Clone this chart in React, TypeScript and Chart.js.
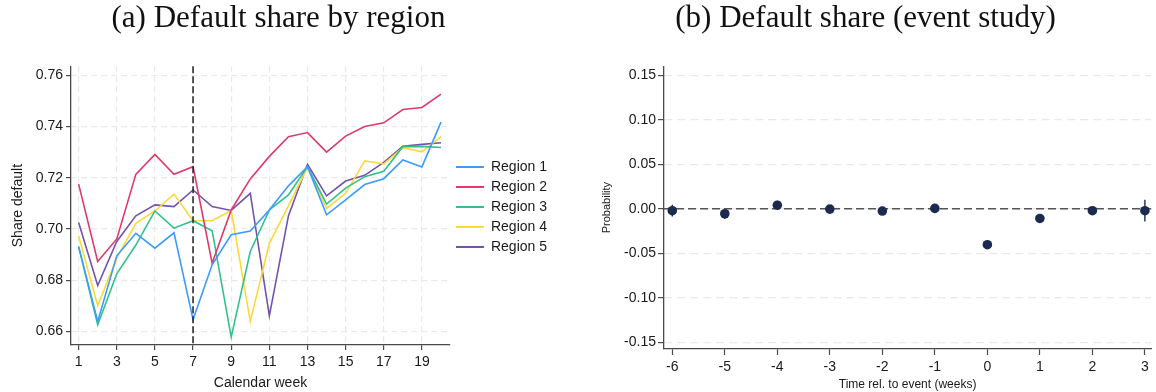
import React, { useEffect, useRef } from "react";
import { Chart, registerables } from "chart.js";

Chart.register(...registerables);

// ---- Panel (a): default share by region, weekly ----
const WEEKS = [1, 2, 3, 4, 5, 6, 7, 8, 9, 10, 11, 12, 13, 14, 15, 16, 17, 18, 19, 20];
const WEEK_TICKS = [1, 3, 5, 7, 9, 11, 13, 15, 17, 19];
const SHARE_TICKS = [0.66, 0.68, 0.7, 0.72, 0.74, 0.76];
const EVENT_WEEK = 7;

const REGION_NAMES = ["Region 1", "Region 2", "Region 3", "Region 4", "Region 5"];
const REGION_COLORS = ["#3d9bff", "#df3a6b", "#2fc38b", "#fdd83c", "#7352ad"];

const REGION_1 = [0.6931, 0.6639, 0.6895, 0.6983, 0.6925, 0.6985, 0.6646, 0.686, 0.6977, 0.6992, 0.7074, 0.7168, 0.7243, 0.7055, 0.7113, 0.7173, 0.7196, 0.7269, 0.7242, 0.7417];
const REGION_2 = [0.7175, 0.6873, 0.6961, 0.7213, 0.7291, 0.7213, 0.7243, 0.6866, 0.7074, 0.7195, 0.7283, 0.736, 0.7376, 0.73, 0.7362, 0.74, 0.7414, 0.7466, 0.7474, 0.7526];
const REGION_3 = [0.6931, 0.6626, 0.6825, 0.6937, 0.707, 0.7003, 0.7032, 0.6993, 0.6578, 0.6912, 0.7074, 0.7133, 0.7243, 0.7097, 0.7159, 0.7204, 0.7225, 0.7321, 0.7322, 0.7318];
const REGION_4 = [0.6973, 0.67, 0.6886, 0.7022, 0.707, 0.7136, 0.7032, 0.7032, 0.7072, 0.6639, 0.6944, 0.709, 0.724, 0.708, 0.7139, 0.7266, 0.7254, 0.7317, 0.7301, 0.736];
const REGION_5 = [0.7025, 0.6779, 0.6951, 0.7051, 0.7094, 0.7087, 0.7152, 0.7087, 0.7072, 0.7139, 0.6661, 0.7051, 0.7252, 0.7129, 0.7187, 0.7209, 0.726, 0.7323, 0.733, 0.7336];
const REGION_SERIES = [REGION_1, REGION_2, REGION_3, REGION_4, REGION_5];

// ---- Panel (b): event-study coefficients with confidence intervals ----
const EVENT_TIME = [-6, -5, -4, -3, -2, -1, 0, 1, 2, 3];
const COEF = [-0.0022, -0.0056, 0.004, -0.0004, -0.0026, 0.0004, -0.0404, -0.0109, -0.0022, -0.0022];
const CI_LOW = [-0.0086, -0.0116, -0.0004, -0.002, -0.004, -0.001, -0.042, -0.0125, -0.0035, -0.0142];
const CI_HIGH = [0.0045, -0.0015, 0.009, 0.0012, -0.001, 0.002, -0.039, -0.0095, -0.0008, 0.0101];
const PROB_TICKS = [-0.15, -0.1, -0.05, 0, 0.05, 0.1, 0.15];
const EVENT_TICKS = [-6, -5, -4, -3, -2, -1, 0, 1, 2, 3];

const SANS = "'Liberation Sans', Arial, sans-serif";
const SERIF = "'Liberation Serif', 'Times New Roman', serif";
const NAVY = "#1b2a4e";
const AXIS = "#4a4a4a";
const GRID = "#e9e9e9";
const TEXT = "#1a1a1a";

const W = 578;
const H = 392;

const eventLinePlugin = {
  id: "eventLine",
  afterDatasetsDraw(chart: any) {
    const { ctx, chartArea, scales } = chart;
    const x = scales.x.getPixelForValue(EVENT_WEEK);
    ctx.save();
    ctx.strokeStyle = "#222";
    ctx.lineWidth = 1.5;
    ctx.setLineDash([7, 3]);
    ctx.beginPath();
    ctx.moveTo(x, chartArea.top);
    ctx.lineTo(x, chartArea.bottom);
    ctx.stroke();
    ctx.restore();
  },
};

const ciPlugin = {
  id: "ciBars",
  beforeDatasetsDraw(chart: any) {
    const { ctx, chartArea, scales } = chart;
    const { x, y } = scales;
    const y0 = y.getPixelForValue(0);
    ctx.save();
    ctx.strokeStyle = "#555";
    ctx.lineWidth = 1.5;
    ctx.setLineDash([8, 4]);
    ctx.beginPath();
    ctx.moveTo(chartArea.left, y0);
    ctx.lineTo(chartArea.right, y0);
    ctx.stroke();
    ctx.setLineDash([]);
    ctx.strokeStyle = NAVY;
    ctx.lineWidth = 1.4;
    EVENT_TIME.forEach((t, i) => {
      const px = x.getPixelForValue(t);
      ctx.beginPath();
      ctx.moveTo(px, y.getPixelForValue(CI_LOW[i]));
      ctx.lineTo(px, y.getPixelForValue(CI_HIGH[i]));
      ctx.stroke();
    });
    ctx.restore();
  },
};

const titleFont = { family: SERIF, size: 31, weight: "normal" };

function RegionChart() {
  const ref = useRef<HTMLCanvasElement>(null);
  useEffect(() => {
    if (!ref.current) return;
    const chart = new Chart(ref.current, {
      type: "line",
      data: {
        datasets: REGION_SERIES.map((series, i) => ({
          label: REGION_NAMES[i],
          data: WEEKS.map((w, j) => ({ x: w, y: series[j] })),
          borderColor: REGION_COLORS[i],
          backgroundColor: REGION_COLORS[i],
          borderWidth: 1.6,
          pointRadius: 0,
          tension: 0,
        })),
      },
      options: {
        responsive: false,
        animation: false,
        devicePixelRatio: 1,
        layout: { padding: { left: 0, right: 21, top: 0, bottom: 0 } },
        plugins: {
          title: {
            display: true,
            text: "(a) Default share by region",
            color: "#111",
            font: titleFont,
            padding: { top: 0, bottom: 29 },
          },
          legend: {
            position: "right",
            align: "center",
            title: { display: true, text: "", padding: 5, font: { family: SANS, size: 10 } },
            labels: {
              boxWidth: 28,
              boxHeight: 2,
              padding: 6,
              color: TEXT,
              font: { family: SANS, size: 14 },
              generateLabels: (c: any) =>
                Chart.defaults.plugins.legend.labels
                  .generateLabels(c)
                  .map((l: any) => ({ ...l, lineWidth: 0 })),
            },
          },
          tooltip: { enabled: false },
        },
        scales: {
          x: {
            type: "linear",
            min: 0.6,
            max: 20.47,
            afterBuildTicks: (s: any) => {
              s.ticks = WEEK_TICKS.map((v) => ({ value: v }));
            },
            afterFit: (s: any) => {
              s.height = 47;
            },
            ticks: {
              autoSkip: false,
              maxRotation: 0,
              padding: 4,
              color: TEXT,
              font: { family: SANS, size: 14 },
              callback: (v: any) => String(v),
            },
            grid: {
              color: GRID,
              lineWidth: 1.2,
              tickLength: 5,
              tickColor: AXIS,
              tickWidth: 1.2,
            },
            border: { color: AXIS, width: 1.3, dash: [6, 4] },
            title: {
              display: true,
              text: "Calendar week",
              color: TEXT,
              font: { family: SANS, size: 14 },
              padding: { top: 0, bottom: 0 },
            },
          },
          y: {
            type: "linear",
            min: 0.6547,
            max: 0.7635,
            afterBuildTicks: (s: any) => {
              s.ticks = SHARE_TICKS.map((v) => ({ value: v }));
            },
            afterFit: (s: any) => {
              s.width = 71;
            },
            ticks: {
              padding: 3,
              color: TEXT,
              font: { family: SANS, size: 14 },
              callback: (v: any) => Number(v).toFixed(2),
            },
            grid: {
              color: GRID,
              lineWidth: 1.2,
              tickLength: 5,
              tickColor: AXIS,
              tickWidth: 1.2,
            },
            border: { color: AXIS, width: 1.3, dash: [6, 4] },
            title: {
              display: true,
              text: "Share default",
              color: TEXT,
              font: { family: SANS, size: 14 },
              padding: { top: 10, bottom: 0 },
            },
          },
        },
      },
      plugins: [eventLinePlugin],
    } as any);
    return () => chart.destroy();
  }, []);
  return <canvas ref={ref} width={W} height={H} style={{ display: "block" }} />;
}

function EventStudyChart() {
  const ref = useRef<HTMLCanvasElement>(null);
  useEffect(() => {
    if (!ref.current) return;
    const chart = new Chart(ref.current, {
      type: "scatter",
      data: {
        datasets: [
          {
            label: "Coefficient",
            data: EVENT_TIME.map((t, i) => ({ x: t, y: COEF[i] })),
            backgroundColor: NAVY,
            borderColor: NAVY,
            borderWidth: 0,
            pointRadius: 4.8,
          },
        ],
      },
      options: {
        responsive: false,
        animation: false,
        devicePixelRatio: 1,
        layout: { padding: { left: 0, right: 3, top: 0, bottom: 0 } },
        plugins: {
          title: {
            display: true,
            text: "(b) Default share (event study)",
            color: "#111",
            font: titleFont,
            padding: { top: 0, bottom: 29 },
          },
          legend: { display: false },
          tooltip: { enabled: false },
        },
        scales: {
          x: {
            type: "linear",
            min: -6.158,
            max: 3.12,
            afterBuildTicks: (s: any) => {
              s.ticks = EVENT_TICKS.map((v) => ({ value: v }));
            },
            afterFit: (s: any) => {
              s.height = 43;
            },
            ticks: {
              autoSkip: false,
              maxRotation: 0,
              padding: 4,
              color: TEXT,
              font: { family: SANS, size: 14 },
              callback: (v: any) => String(v),
            },
            grid: {
              drawOnChartArea: false,
              tickLength: 6,
              tickColor: AXIS,
              tickWidth: 1.2,
            },
            border: { color: AXIS, width: 1.3 },
            title: {
              display: true,
              text: "Time rel. to event (weeks)",
              color: TEXT,
              font: { family: SANS, size: 12 },
              padding: { top: 0, bottom: 0 },
            },
          },
          y: {
            type: "linear",
            min: -0.1575,
            max: 0.1601,
            afterBuildTicks: (s: any) => {
              s.ticks = PROB_TICKS.map((v) => ({ value: v }));
            },
            afterFit: (s: any) => {
              s.width = 86;
            },
            ticks: {
              padding: 2,
              color: TEXT,
              font: { family: SANS, size: 14 },
              callback: (v: any) => Number(v).toFixed(2),
            },
            grid: {
              color: GRID,
              lineWidth: 1.2,
              tickLength: 6,
              tickColor: AXIS,
              tickWidth: 1.2,
            },
            border: { color: AXIS, width: 1.3, dash: [8, 5] },
            title: {
              display: true,
              text: "Probability",
              color: TEXT,
              font: { family: SANS, size: 11 },
              padding: { top: 22, bottom: 0 },
            },
          },
        },
      },
      plugins: [ciPlugin],
    } as any);
    return () => chart.destroy();
  }, []);
  return <canvas ref={ref} width={W} height={H} style={{ display: "block" }} />;
}

export default function App() {
  return (
    <div style={{ position: "absolute", left: 0, top: 0, width: 1156, height: 392, background: "#fff" }}>
      <div style={{ position: "absolute", left: 0, top: 0 }}>
        <RegionChart />
      </div>
      <div style={{ position: "absolute", left: 578, top: 0 }}>
        <EventStudyChart />
      </div>
    </div>
  );
}
